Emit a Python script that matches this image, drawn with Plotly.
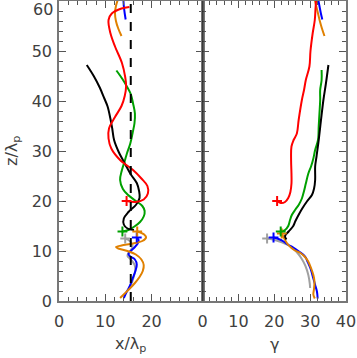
import plotly.graph_objects as go
from plotly.subplots import make_subplots

# trajectories, left panel: z/lambda_p vs x/lambda_p
red_z = [20.0, 19.8, 20.3, 21.5, 23.0, 24.5, 26.2, 28.2, 30.5, 32.5, 34.5, 36.8, 39.0, 41.0, 43.0, 44.8, 47.6, 50.9, 53.6, 56.2, 57.5, 58.5, 58.8]
red_x = [14.6, 16.5, 18.3, 19.2, 19.1, 17.8, 16.0, 13.2, 11.3, 10.7, 10.8, 12.1, 13.5, 14.2, 14.5, 14.3, 13.6, 12.1, 11.1, 10.7, 11.4, 13.5, 15.2]

black_z = [14.2, 14.5, 15.3, 16.5, 17.8, 19.2, 20.6, 22.0, 23.6, 25.2, 26.5, 28.2, 29.8, 32.2, 34.5, 36.5, 38.9, 40.5, 42.7, 45.0, 47.2]
black_x = [16.2, 14.8, 14.0, 14.0, 15.0, 16.6, 17.4, 17.3, 16.8, 15.6, 14.8, 13.8, 12.9, 11.9, 11.5, 11.1, 10.5, 9.8, 8.8, 7.5, 6.0]

green_z = [13.9, 14.2, 14.9, 15.8, 16.9, 18.0, 19.0, 20.2, 21.3, 22.4, 24.2, 26.2, 28.0, 29.6, 31.5, 33.6, 35.5, 37.5, 39.5, 41.4, 43.0, 44.4, 46.1]
green_x = [13.7, 15.0, 16.3, 17.5, 18.3, 18.5, 18.0, 16.3, 14.8, 13.8, 13.2, 13.6, 14.2, 14.7, 15.4, 15.9, 16.3, 16.4, 16.0, 15.5, 14.6, 13.7, 12.4]

orange_z = [0.6, 1.5, 2.5, 3.6, 4.8, 6.0, 7.2, 8.3, 9.3, 10.0, 10.5, 10.8, 11.1, 11.5, 12.0, 12.7, 13.3, 13.9]
orange_x = [13.2, 14.2, 15.3, 16.4, 17.4, 18.1, 18.3, 17.8, 16.6, 14.8, 12.8, 12.3, 13.5, 16.0, 18.0, 18.8, 18.4, 16.9]
orange_top_z = [53.0, 54.5, 56.0, 57.5, 59.0, 60.5]
orange_top_x = [13.5, 12.8, 12.3, 12.1, 12.3, 12.8]

blue_z = [0.6, 1.8, 3.0, 4.5, 6.0, 7.3, 8.3, 8.9, 9.4, 10.0, 10.7, 11.5, 12.2, 12.7]
blue_x = [14.0, 14.6, 15.3, 15.9, 16.5, 16.8, 16.4, 15.4, 15.0, 15.5, 16.3, 17.0, 17.2, 16.8]
blue_top_z = [56.3, 57.5, 59.0, 60.5]
blue_top_x = [14.4, 14.2, 14.0, 13.9]

gray_z = [2.8, 3.8, 5.0, 6.2, 7.3, 8.3, 9.0, 9.6, 10.3, 11.0, 11.8, 12.3, 12.5]
gray_x = [15.2, 15.8, 16.2, 16.5, 16.3, 15.5, 14.8, 15.0, 15.6, 15.9, 15.5, 14.8, 14.3]

# right panel: z/lambda_p vs gamma
red_gz = [20.0, 19.6, 19.8, 20.6, 21.8, 23.5, 25.5, 28.0, 30.9, 32.2, 33.5, 36.2, 40.2, 42.2, 44.2, 46.9, 50.0, 53.5, 56.2, 58.5, 60.5]
red_g = [20.8, 21.8, 23.0, 23.9, 24.5, 24.8, 24.8, 24.7, 24.8, 25.4, 26.3, 26.8, 27.7, 28.3, 28.8, 29.8, 30.1, 30.7, 31.3, 31.5, 31.7]

black_gz = [12.3, 13.0, 13.9, 15.0, 16.0, 17.5, 18.5, 19.9, 21.2, 22.5, 24.2, 26.9, 29.0, 32.2, 36.0, 40.2, 43.5, 47.2]
black_g = [23.4, 23.0, 24.0, 25.3, 25.9, 27.0, 27.8, 29.1, 30.5, 31.1, 31.4, 31.4, 31.8, 32.4, 33.0, 33.7, 34.4, 35.1]

green_gz = [13.9, 14.2, 15.0, 16.2, 17.2, 18.3, 19.2, 20.5, 22.0, 23.5, 25.5, 27.0, 28.5, 30.2, 32.2, 35.0, 37.5, 40.2, 42.2, 44.2, 46.2]
green_g = [21.8, 23.0, 23.9, 24.4, 24.9, 25.9, 26.8, 27.7, 28.3, 28.8, 29.5, 30.3, 30.9, 31.4, 32.2, 32.4, 32.6, 32.8, 32.8, 33.2, 33.2]

orange_gz = [0.5, 1.3, 2.5, 4.0, 5.2, 6.5, 8.0, 9.0, 9.6, 10.1, 10.6, 11.5, 12.5, 13.5]
orange_g = [31.3, 30.9, 31.1, 31.2, 30.9, 30.3, 29.4, 28.3, 27.3, 25.8, 24.8, 23.6, 22.8, 22.1]
orange_top_gz = [53.0, 54.5, 56.0, 57.5, 59.0, 60.5]
orange_top_g = [34.0, 33.3, 32.7, 32.2, 31.7, 31.2]

blue_gz = [0.5, 1.9, 3.2, 4.5, 6.5, 8.0, 8.9, 9.9, 10.7, 11.2, 11.9, 12.4, 12.7]
blue_g = [32.1, 31.9, 31.4, 30.9, 30.1, 29.2, 28.6, 26.9, 25.3, 24.0, 22.6, 21.2, 19.8]
blue_top_gz = [56.3, 57.5, 59.0, 60.5]
blue_top_g = [33.4, 33.0, 32.6, 32.2]

gray_gz = [2.6, 3.5, 5.2, 7.0, 8.5, 9.5, 10.5, 11.2, 11.6, 12.0, 12.3, 12.5]
gray_g = [30.0, 29.9, 29.5, 28.7, 27.6, 26.6, 25.2, 23.8, 22.6, 21.0, 19.6, 18.0]

# start points ("+")
start_colors = ["#a0a0a0", "#0000ff", "#e08000", "#00a000", "#ff0000"]
start_x = [14.3, 16.8, 16.9, 13.7, 14.6]
start_z = [12.5, 12.7, 13.9, 13.9, 20.0]
start_g = [18.0, 19.8, 22.1, 21.8, 20.8]
start_gz = [12.5, 12.7, 13.5, 13.9, 20.0]

x_center = 15.5
x_ticks = [0, 10, 20]
g_ticks = [0, 10, 20, 30, 40]
z_ticks = [0, 10, 20, 30, 40, 50]

fig = make_subplots(rows=1, cols=2, shared_yaxes=True, horizontal_spacing=0)

series = [
    ("#a0a0a0", gray_x, gray_z, gray_g, gray_gz),
    ("#0000ff", blue_x, blue_z, blue_g, blue_gz),
    ("#0000ff", blue_top_x, blue_top_z, blue_top_g, blue_top_gz),
    ("#e08000", orange_x, orange_z, orange_g, orange_gz),
    ("#e08000", orange_top_x, orange_top_z, orange_top_g, orange_top_gz),
    ("#00a000", green_x, green_z, green_g, green_gz),
    ("#000000", black_x, black_z, black_g, black_gz),
    ("#ff0000", red_x, red_z, red_g, red_gz),
]
for col, xs, zs, gs, gzs in series:
    fig.add_trace(go.Scatter(x=xs, y=zs, mode="lines", line=dict(color=col, width=2, shape="spline")), row=1, col=1)
    fig.add_trace(go.Scatter(x=gs, y=gzs, mode="lines", line=dict(color=col, width=2, shape="spline")), row=1, col=2)

fig.add_trace(go.Scatter(x=[x_center, x_center], y=[0, 60], mode="lines",
                         line=dict(color="black", width=2, dash="dash")), row=1, col=1)

for i, col in enumerate(start_colors):
    mk = dict(symbol="cross-thin", size=7, line=dict(color=col, width=2))
    fig.add_trace(go.Scatter(x=[start_x[i]], y=[start_z[i]], mode="markers", marker=mk), row=1, col=1)
    fig.add_trace(go.Scatter(x=[start_g[i]], y=[start_gz[i]], mode="markers", marker=mk), row=1, col=2)

txtcol = "#404040"
tickfont = dict(family="DejaVu Sans", size=16, color=txtcol)
axcommon = dict(showline=True, linecolor="#777777", linewidth=1.5, mirror="ticks",
                ticks="inside", ticklen=7, tickcolor="#555555", tickwidth=1,
                showgrid=False, zeroline=False, tickfont=tickfont, automargin=False,
                minor=dict(ticks="inside", ticklen=4, tickcolor="#555555", dtick=2))

fig.update_xaxes(axcommon, ticklabelstandoff=5)
fig.update_yaxes(axcommon, ticklabelstandoff=2)
fig.update_xaxes(range=[0, 31], tickvals=x_ticks, row=1, col=1)
fig.update_xaxes(range=[0, 40], tickvals=g_ticks, row=1, col=2)
fig.update_yaxes(range=[0, 60], tickvals=z_ticks, row=1, col=1)
fig.update_yaxes(range=[0, 60], tickvals=z_ticks, showticklabels=False, row=1, col=2)

# top label sits just under the frame
fig.add_annotation(x=0, y=60, xref="paper", yref="y", text="60", showarrow=False,
                   xanchor="right", yanchor="top", xshift=-4, yshift=3, font=tickfont)

# axis titles
titlefont = dict(family="DejaVu Sans", size=16, color=txtcol)
fig.add_annotation(x=0.5, y=0, xref="x domain", yref="paper", text="x/λ<sub>p</sub>",
                   showarrow=False, yanchor="middle", yshift=-43, font=titlefont)
fig.add_annotation(x=0.5, y=0, xref="x2 domain", yref="paper", text="γ",
                   showarrow=False, yanchor="middle", yshift=-43, font=titlefont)
fig.add_annotation(x=0, y=0.5, xref="paper", yref="paper", text="z/λ<sub>p</sub>",
                   showarrow=False, textangle=-90, xanchor="center", xshift=-47, font=titlefont)

# black divider between the panels
fig.add_vline(x=0, line=dict(color="black", width=1.5), row=1, col=2)

fig.update_layout(width=357, height=358, showlegend=False,
                  margin=dict(l=59, r=11, t=1, b=57),
                  plot_bgcolor="white", paper_bgcolor="white")
fig.write_html("out.html", config={"displayModeBar": False},
               post_script="document.body.style.margin='0';")
